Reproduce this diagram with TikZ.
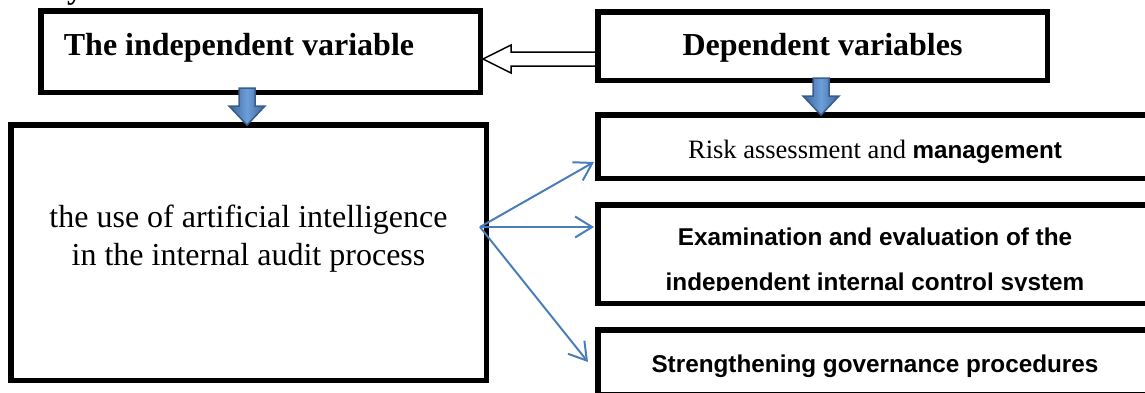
\documentclass[tikz,border=0pt]{standalone}
\usepackage{fontspec}
\setmainfont{Liberation Serif}
\newfontfamily\arialfont{Liberation Sans}
\usetikzlibrary{arrows.meta}
\definecolor{ablue}{HTML}{4A7EBB}
\definecolor{bfill}{HTML}{4F81BD}
\definecolor{bdark}{HTML}{385D8A}
\definecolor{blight}{HTML}{6C9FDB}
\begin{document}
\begin{tikzpicture}[x=1pt,y=-1pt,
  boxstyle/.style={draw=black, line width=5.5pt, fill=white, rectangle, inner sep=0pt},
  headtext/.style={font=\fontsize{32}{38}\selectfont\bfseries, inner sep=0pt, anchor=base},
  bodytext/.style={font=\fontsize{32}{38}\selectfont, inner sep=0pt, align=center, anchor=north},
  sanstext/.style={font=\arialfont\bfseries\fontsize{24.3}{45}\selectfont, inner sep=0pt, align=center},
  thinarrow/.style={draw=ablue, line width=2pt, -{Straight Barb[length=17pt,width=21pt,line width=2pt]}},
  hollowarrow/.style={draw=black, line width=1.5pt, fill=white, line join=miter},
  blockdown/.pic={
    \path[left color=bdark!85!bfill, right color=bdark!85!bfill, middle color=blight]
      (-8,-37) -- (8,-37) -- (8,-19) -- (18,-19) -- (0,0) -- (-18,-19) -- (-8,-19) -- cycle;
    \draw[bdark, line width=1.5pt, line join=miter]
      (-8,-37) -- (8,-37) -- (8,-19) -- (18,-19) -- (0,0) -- (-18,-19) -- (-8,-19) -- cycle;
  }]
\useasboundingbox (0,0) rectangle (1145,392);
\clip (0,0) rectangle (1145,392);

% cropped descender of a line above the figure
\node[headtext, anchor=base west] (ytail) at (67,-2) {y};

% boxes
\node[boxstyle, minimum width=439.5pt, minimum height=81.5pt] (indep) at (260.5,51.5) {};
\node[boxstyle, minimum width=475.5pt, minimum height=255.5pt] (ai) at (248.5,252.5) {};
\node[boxstyle, minimum width=554.5pt, minimum height=63.5pt] (risk) at (875,146.5) {};
\node[boxstyle, minimum width=554.5pt, minimum height=98.5pt] (exam) at (875,254) {};
\node[boxstyle, minimum width=554.5pt, minimum height=64.5pt] (gov) at (875,362) {};

% hollow arrow from dependent to independent
\coordinate (hstart) at (600,59);
\coordinate (hend) at (483,59);
\draw[hollowarrow] ([yshift=7pt]hstart) -- (511,52) -- (511,45) -- (hend)
  -- (511,73) -- (511,66) -- ([yshift=-7pt]hstart);

\node[boxstyle, minimum width=449.5pt, minimum height=68.5pt] (dep) at (822.5,46) {};

% texts
\node[headtext] (indeptext) at (239,55) {The independent variable};
\node[headtext] (deptext) at (822.5,55) {Dependent variables};
\node[bodytext] (aitext) at (248.5,205.2) {the use of artificial intelligence\\in the internal audit process};
\node[inner sep=0pt, anchor=base] (risktext) at (875,158)
  {\fontsize{26.5}{30}\selectfont Risk assessment and {\arialfont\bfseries\fontsize{24.2}{30}\selectfont management}};
\begin{scope}
  \clip (598,205) rectangle (1150,290.5);
  \node[sanstext, anchor=north] (examtext) at (875,227.3) {Examination and evaluation of the\\independent internal control system};
\end{scope}
\node[sanstext, anchor=base] (govtext) at (875,372) {Strengthening governance procedures};

% block arrows
\pic at (247,125) {blockdown};
\pic at (821,115) {blockdown};

% thin arrows
\coordinate (src) at (480,227);
\coordinate (t1) at (594,162);
\coordinate (t2) at (594,227);
\coordinate (t3) at (588,362);
\draw[thinarrow] (src) -- (t1);
\draw[thinarrow] (src) -- (t2);
\draw[thinarrow] (src) -- (t3);
\end{tikzpicture}
\end{document}
